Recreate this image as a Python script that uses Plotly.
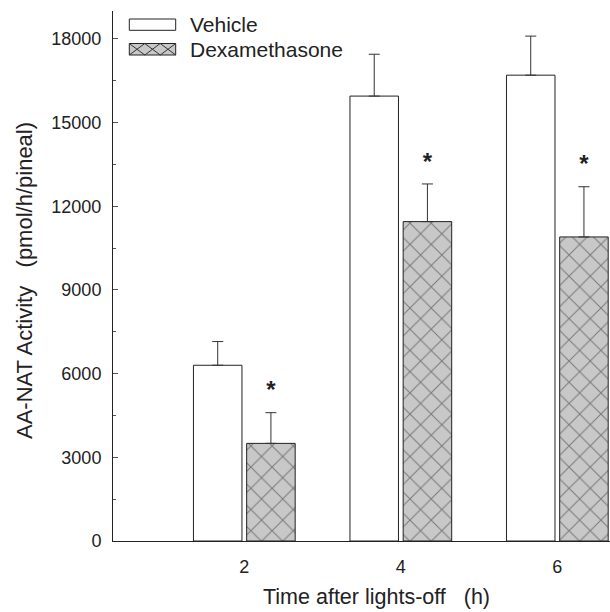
import plotly.graph_objects as go

# ---- data ----
times = [2, 4, 6]
vehicle = [6300, 15950, 16700]
vehicle_err = [850, 1500, 1400]
dexa = [3500, 11450, 10900]
dexa_err = [1100, 1350, 1800]
significant = ["<b>*</b>", "<b>*</b>", "<b>*</b>"]
y_ticks = [0, 3000, 6000, 9000, 12000, 15000, 18000]
x_ticks = [2, 4, 6]

W, H = 610, 612
ML, MR, MT, MB = 113, 0, 11, 71
PW, PH = W - ML - MR, H - MT - MB
FONT = "Liberation Sans, Arial, Helvetica, sans-serif"
INK = "#222222"

def px_x(px):
    return (px - ML) / PW

def px_y(py):
    return (H - MB - py) / PH

fig = go.Figure()

fig.add_trace(go.Bar(
    x=times, y=vehicle, name="Vehicle",
    width=0.62, offset=-0.65,
    marker=dict(color="white", line=dict(color=INK, width=1)),
    error_y=dict(type="data", array=vehicle_err, arrayminus=[0, 0, 0],
                 symmetric=False, color="#333333", thickness=1, width=5.5),
    showlegend=False,
))
fig.add_trace(go.Bar(
    x=times, y=dexa, name="Dexamethasone",
    width=0.62, offset=0.03,
    marker=dict(color="#c8c8c8", line=dict(color=INK, width=1),
                pattern=dict(shape="x", bgcolor="#c8c8c8", fgcolor="#2a2a2a",
                             size=15, solidity=0.13, fillmode="overlay")),
    error_y=dict(type="data", array=dexa_err, arrayminus=[0, 0, 0],
                 symmetric=False, color="#333333", thickness=1, width=5.5),
    showlegend=False,
))

# significance stars above the dexamethasone error bars
star_x = [t + 0.34 for t in times]
star_y = [v + e + 300 for v, e in zip(dexa, dexa_err)]
fig.add_trace(go.Scatter(
    x=star_x, y=star_y, mode="text", text=significant,
    textposition="top center",
    textfont=dict(family=FONT, size=24, color=INK),
    showlegend=False, hoverinfo="skip",
))

fig.update_layout(
    width=W, height=H,
    margin=dict(l=ML, r=MR, t=MT, b=MB, pad=0),
    paper_bgcolor="white", plot_bgcolor="white",
    barmode="overlay",
    font=dict(family=FONT, color=INK, size=18),
    xaxis=dict(range=[0.322, 6.673], showgrid=False, zeroline=False,
               showline=True, linecolor=INK, linewidth=1,
               ticks="", tickvals=x_ticks, ticktext=[str(v) for v in x_ticks],
               tickfont=dict(size=18), ticklabelstandoff=9),
    yaxis=dict(range=[0, 19000], showgrid=False, zeroline=False,
               showline=True, linecolor=INK, linewidth=1,
               ticks="inside", ticklen=5, tickcolor="#555555", tickwidth=1,
               tickvals=y_ticks, ticktext=[str(v) for v in y_ticks],
               tickfont=dict(size=18), ticklabelstandoff=7,
               minor=dict(dtick=1500, ticks="inside", ticklen=3,
                          tickcolor="#555555", showgrid=False)),
)

# axis titles
fig.add_annotation(text="Time after lights-off\u00a0\u00a0\u00a0(h)",
                   xref="paper", yref="paper", x=px_x(376), y=px_y(597),
                   xanchor="center", yanchor="middle", showarrow=False,
                   font=dict(size=21.5, color=INK))
fig.add_annotation(text="AA-NAT Activity\u00a0\u00a0\u00a0(pmol/h/pineal)",
                   xref="paper", yref="paper", x=px_x(24), y=px_y(281),
                   xanchor="center", yanchor="middle", textangle=-90,
                   showarrow=False, font=dict(size=22, color=INK))

# legend drawn as swatches + labels
x0, x1 = px_x(129.3), px_x(175.7)
fig.add_shape(type="rect", xref="paper", yref="paper",
              x0=x0, x1=x1, y0=px_y(30.3), y1=px_y(19),
              line=dict(color=INK, width=1), fillcolor="white")
fig.add_shape(type="rect", xref="paper", yref="paper",
              x0=x0, x1=x1, y0=px_y(55), y1=px_y(43.5),
              line=dict(color=INK, width=1), fillcolor="#c8c8c8")
yt, yb = px_y(43.5), px_y(55)
seg = (x1 - x0) / 3
path = ""
for i in range(3):
    a, b = x0 + i * seg, x0 + (i + 1) * seg
    path += f"M{a},{yt} L{b},{yb} M{a},{yb} L{b},{yt} "
fig.add_shape(type="path", xref="paper", yref="paper", path=path,
              line=dict(color="#333333", width=1))
fig.add_annotation(text="Vehicle", xref="paper", yref="paper",
                   x=px_x(188), y=px_y(25), xanchor="left", yanchor="middle",
                   showarrow=False, font=dict(size=21, color=INK))
fig.add_annotation(text="Dexamethasone", xref="paper", yref="paper",
                   x=px_x(188), y=px_y(49.5), xanchor="left", yanchor="middle",
                   showarrow=False, font=dict(size=21, color=INK))

fig.write_html("out.html")
